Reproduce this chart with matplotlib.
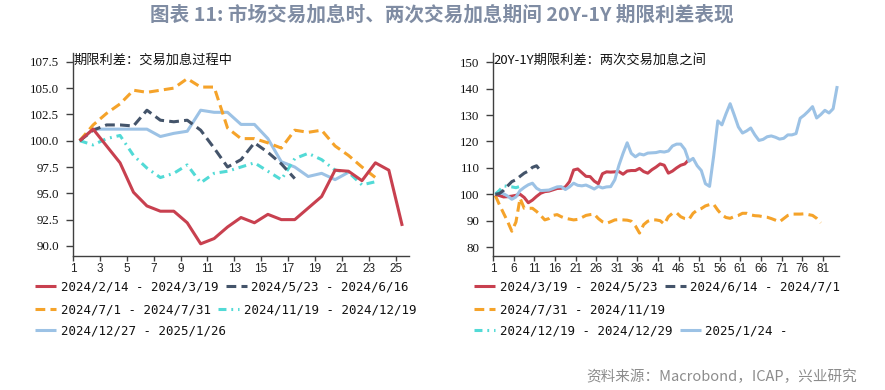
import numpy as np
import matplotlib
matplotlib.use('Agg')
import matplotlib.pyplot as plt
from matplotlib.lines import Line2D

# ---------------- data ----------------
# left panel: spread during hiking-trade windows (index = trading day)
left_red = [100.0, 101.1, 99.5, 97.9, 95.1, 93.8, 93.3, 93.3, 92.2, 90.2, 90.7, 91.8, 92.7,
            92.2, 93.0, 92.5, 92.5, 93.6, 94.7, 97.2, 97.1, 96.2, 97.9, 97.2, 91.9]
left_navy = [100.0, 101.0, 101.5, 101.5, 101.4, 102.9, 101.95, 101.8, 101.95, 101.0, 99.3,
             97.5, 98.2, 99.8, 98.9, 97.8, 96.4]
left_orange = [100.0, 101.5, 102.6, 103.5, 104.8, 104.6, 104.8, 105.0, 105.9, 105.1, 105.1,
               101.2, 100.2, 100.2, 99.8, 99.3, 101.0, 100.8, 101.0, 99.5, 98.6, 97.5, 96.5]
left_cyan = [100.0, 99.6, 100.2, 100.5, 98.6, 97.4, 96.5, 96.9, 97.7, 96.0, 96.9, 97.1, 97.5,
             97.9, 97.1, 96.3, 98.3, 98.8, 98.2, 97.2, 97.0, 95.8, 96.1]
left_lblue = [100.0, 101.1, 101.1, 101.1, 101.1, 101.1, 100.4, 100.7, 100.9, 102.9, 102.7,
              102.7, 101.55, 101.55, 100.2, 98.0, 97.5, 96.6, 96.9, 96.3, 97.0]
left_labels = ["2024/2/14 - 2024/3/19", "2024/5/23 - 2024/6/16", "2024/7/1 - 2024/7/31",
               "2024/11/19 - 2024/12/19", "2024/12/27 - 2025/1/26"]

# right panel: spread between two hiking trades
right_red = [100.0, 99.5, 99.0, 99.1, 99.3, 99.6, 100.0, 98.8, 96.8, 97.8, 99.2, 100.4, 101.0,
             101.2, 101.7, 102.2, 102.3, 102.8, 104.8, 109.2, 109.6, 108.2, 106.8, 106.7, 105.0,
             104.0, 107.8, 108.5, 108.4, 108.5, 108.6, 107.6, 108.8, 109.0, 109.0, 109.8, 108.6,
             108.0, 109.3, 110.3, 111.5, 111.0, 108.0, 108.8, 110.0, 111.0, 111.5, 113.2]
right_navy = [100.0, 100.3, 101.5, 103.2, 104.8, 105.5, 106.8, 108.0, 108.8, 110.2, 110.8, 108.8]
right_orange = [99.5, 96.0, 92.8, 89.6, 86.0, 89.5, 98.5, 94.7, 94.7, 94.7, 93.5, 92.0, 90.3,
                90.8, 92.0, 92.3, 91.5, 90.9, 90.6, 90.3, 90.5, 91.2, 92.0, 92.3, 92.5, 90.8,
                89.6, 89.0, 89.6, 90.3, 90.4, 90.3, 90.2, 89.8, 88.0, 85.3, 88.5, 89.8, 90.3,
                90.3, 90.0, 88.7, 91.5, 92.8, 93.0, 91.5, 90.8, 90.5, 92.8, 94.0, 94.6, 95.6,
                96.1, 96.2, 94.0, 92.2, 91.2, 90.9, 91.6, 92.0, 92.8, 92.8, 92.2, 91.9, 91.8,
                91.5, 91.3, 90.8, 90.2, 89.6, 90.8, 92.0, 92.5, 92.5, 92.5, 92.6, 92.3, 92.0,
                90.9, 89.2]
right_cyan = [100.0, 101.5, 103.2, 103.0, 102.8, 102.5, 103.0]
right_lblue = [100.3, 100.6, 100.2, 99.3, 98.1, 99.0, 101.4, 102.6, 103.6, 104.2, 102.3, 101.4,
               101.5, 101.6, 102.2, 102.8, 102.9, 101.8, 102.8, 104.2, 103.4, 103.2, 103.5,
               102.8, 102.0, 103.0, 102.4, 102.8, 102.9, 105.5, 111.0, 115.5, 119.5, 115.5,
               114.2, 115.3, 114.9, 115.6, 115.7, 115.8, 116.2, 116.0, 116.4, 118.3, 119.0,
               119.0, 117.0, 112.5, 113.6, 110.8, 109.0, 104.0, 103.0, 114.5, 127.8, 126.3,
               130.5, 134.3, 130.0, 125.5, 123.2, 124.0, 125.1, 122.5, 120.4, 120.8, 121.8,
               122.1, 121.6, 120.9, 121.2, 122.5, 122.5, 123.0, 128.8, 130.0, 131.5, 133.2,
               128.9, 130.2, 131.8, 130.8, 132.4, 141.0]
right_labels = ["2024/3/19 - 2024/5/23", "2024/6/14 - 2024/7/1", "2024/7/31 - 2024/11/19",
                "2024/12/19 - 2024/12/29", "2025/1/24 -"]

left_xticks = list(range(1, 26, 2))
right_xticks = list(range(1, 82, 5))
left_yticks = [90.0, 92.5, 95.0, 97.5, 100.0, 102.5, 105.0, 107.5]
right_yticks = [80, 90, 100, 110, 120, 130, 140, 150]

# ---------------- styles ----------------
RED = '#C8404F'
NAVY = '#44546A'
ORANGE = '#F5A32A'
CYAN = '#52DAD6'
LBLUE = '#9CC2E5'
LW = 2.2
styles = {
    'red': dict(color=RED, lw=LW, solid_capstyle='butt'),
    'navy': dict(color=NAVY, lw=LW, dashes=(3.2, 1.7), dash_capstyle='butt'),
    'orange': dict(color=ORANGE, lw=LW, dashes=(3.2, 1.7), dash_capstyle='butt'),
    'cyan': dict(color=CYAN, lw=LW, dashes=(2.6, 1.6, 0.6, 1.6), dash_capstyle='butt'),
    'lblue': dict(color=LBLUE, lw=LW, solid_capstyle='butt'),
}

CJK = ['Noto Sans CJK SC', 'DejaVu Sans']
SPINE = '#404040'

fig = plt.figure(figsize=(8.85, 3.9), dpi=100)
W, H = 885.0, 390.0

axL = fig.add_axes([73 / W, 1 - 255.7 / H, 336 / W, 202.4 / H])
axR = fig.add_axes([493.3 / W, 1 - 255.7 / H, 346 / W, 202.4 / H])


def plot_series(ax, vals, key, z):
    x = np.arange(1, len(vals) + 1) + 0.5
    ax.plot(x, vals, zorder=z, **styles[key])


plot_series(axL, left_lblue, 'lblue', 2)
plot_series(axL, left_cyan, 'cyan', 3)
plot_series(axL, left_orange, 'orange', 4)
plot_series(axL, left_navy, 'navy', 5)
plot_series(axL, left_red, 'red', 6)

plot_series(axR, right_orange, 'orange', 2)
plot_series(axR, right_red, 'red', 3)
plot_series(axR, right_lblue, 'lblue', 4)
plot_series(axR, right_cyan, 'cyan', 5)
plot_series(axR, right_navy, 'navy', 6)

axL.set_xlim(1, 26)
axL.set_ylim(89.07, 108.31)
axR.set_xlim(1, 85)
axR.set_ylim(76.74, 153.4)

for ax, xt, yt, fmt in [(axL, left_xticks, left_yticks, '{:.1f}'), (axR, right_xticks, right_yticks, '{:.0f}')]:
    ax.set_xticks(xt)
    ax.set_xticklabels([str(v) for v in xt], fontfamily='Liberation Sans', fontsize=8.5, color='#222222')
    ax.set_yticks(yt)
    ax.set_yticklabels([fmt.format(v) for v in yt], fontfamily='Liberation Serif', fontsize=9.3, color='#111111')
    for s in ['top', 'right']:
        ax.spines[s].set_visible(False)
    for s in ['left', 'bottom']:
        ax.spines[s].set_color(SPINE)
        ax.spines[s].set_linewidth(1.0)
    ax.tick_params(axis='y', direction='out', length=5, width=1.0, color=SPINE, pad=5)
    ax.tick_params(axis='x', direction='out', length=3.5, width=1.0, color=SPINE, pad=2)
    ax.set_facecolor('none')

axL.text(0.0, 1 - (60.5 - 53.3) / 202.4, "期限利差：交易加息过程中", transform=axL.transAxes,
         ha='left', va='center', fontsize=9.5, family=CJK, color='#111111')
axR.text(0.0, 1 - (60.5 - 53.3) / 202.4, "20Y-1Y期限利差：两次交易加息之间", transform=axR.transAxes,
         ha='left', va='center', fontsize=9.5, family=CJK, color='#111111')

fig.text(442 / W, 1 - 15 / H, "图表 11: 市场交易加息时、两次交易加息期间 20Y-1Y 期限利差表现",
         ha='center', va='center', fontsize=14.1, fontweight='bold', family=CJK, color='#7F8CA3')
fig.text(857 / W, 1 - 377 / H, "资料来源：Macrobond，ICAP，兴业研究",
         ha='right', va='center', fontsize=10.5, family=CJK, color='#8C8C8C')


def handle(key):
    return Line2D([], [], **dict(styles[key]))


leg_prop = dict(family='DejaVu Sans Mono', size=9.0)


def add_row(keys, labels, x_px, y_px):
    hs = [handle(k) for k in keys]
    lg = fig.legend(hs, labels, loc='center left', bbox_to_anchor=(x_px / W, 1 - y_px / H),
                    ncol=len(keys), frameon=False, prop=leg_prop, handlelength=1.7,
                    handletextpad=0.35, columnspacing=0.6, borderpad=0, borderaxespad=0)
    for t in lg.get_texts():
        t.set_color('#111111')
    return lg


add_row(['red', 'navy'], left_labels[0:2], 35, 287)
add_row(['orange', 'cyan'], left_labels[2:4], 35, 310)
add_row(['lblue'], left_labels[4:5], 35, 331)

add_row(['red', 'navy'], right_labels[0:2], 474, 287)
add_row(['orange'], right_labels[2:3], 474, 310)
add_row(['cyan', 'lblue'], right_labels[3:5], 474, 331)

fig.savefig('out.png', dpi=100)
